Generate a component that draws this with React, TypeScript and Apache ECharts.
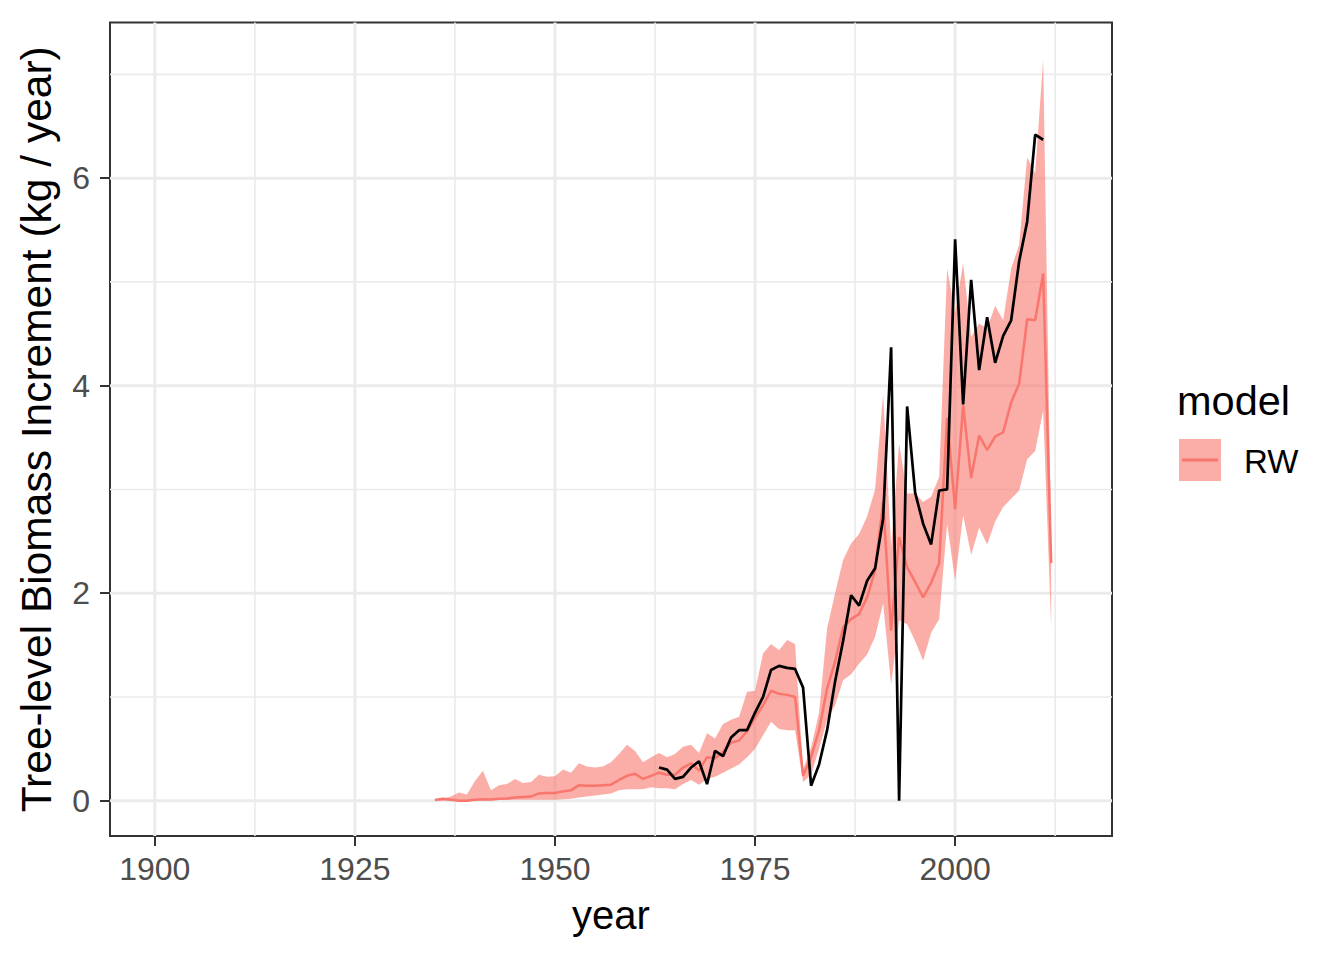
import React, { useEffect, useRef } from "react";
import * as echarts from "echarts";

const FONT = "'Liberation Sans', Arial, Helvetica, sans-serif";

// Band / mean years (model RW)
const years = [
  1935, 1936, 1937, 1938, 1939, 1940, 1941, 1942, 1943, 1944,
  1945, 1946, 1947, 1948, 1949, 1950, 1951, 1952, 1953, 1954,
  1955, 1956, 1957, 1958, 1959, 1960, 1961, 1962, 1963, 1964,
  1965, 1966, 1967, 1968, 1969, 1970, 1971, 1972, 1973, 1974,
  1975, 1976, 1977, 1978, 1979, 1980, 1981, 1982, 1983, 1984,
  1985, 1986, 1987, 1988, 1989, 1990, 1991, 1992, 1993, 1994,
  1995, 1996, 1997, 1998, 1999, 2000, 2001, 2002, 2003, 2004,
  2005, 2006, 2007, 2008, 2009, 2010, 2011, 2012,
];

const rwMean = [
  0.006, 0.02, 0.01, 0.0, 0.0, 0.01, 0.015, 0.012, 0.02, 0.022,
  0.03, 0.035, 0.04, 0.07, 0.074, 0.074, 0.09, 0.1, 0.15, 0.145,
  0.145, 0.15, 0.155, 0.2, 0.24, 0.26, 0.21, 0.24, 0.27, 0.25,
  0.25, 0.32, 0.36, 0.29, 0.42, 0.41, 0.47, 0.56, 0.58, 0.67,
  0.8, 0.92, 1.06, 1.03, 1.02, 1.0, 0.24, 0.42, 0.68, 1.08,
  1.34, 1.67, 1.75, 1.8, 1.96, 2.22, 2.88, 1.64, 2.54, 2.25,
  2.11, 1.96, 2.1, 2.29, 3.69, 2.81, 3.81, 3.11, 3.52, 3.38,
  3.51, 3.55, 3.84, 4.02, 4.64, 4.63, 5.08, 2.29,
];

const rwUpper = [
  0.01, 0.02, 0.04, 0.08, 0.06, 0.19, 0.29, 0.1, 0.15, 0.16,
  0.21, 0.17, 0.18, 0.25, 0.23, 0.235, 0.3, 0.27, 0.36, 0.33,
  0.32, 0.33, 0.37, 0.45, 0.54, 0.48, 0.37, 0.42, 0.46, 0.42,
  0.45, 0.52, 0.54, 0.46, 0.65, 0.6, 0.74, 0.78, 0.81, 1.05,
  1.06, 1.42, 1.51, 1.45, 1.55, 1.51, 0.3, 0.51, 0.85, 1.66,
  2.0, 2.32, 2.48, 2.57, 2.74, 3.0, 3.92, 2.45, 3.44, 2.96,
  2.96, 2.88, 2.93, 3.12, 5.13, 4.7, 5.18, 4.47, 4.6, 4.55,
  4.77, 4.63, 5.13, 5.36, 6.2, 6.05, 7.14, 2.5,
];

const rwLower = [
  0.0, 0.0, 0.0, 0.0, 0.0, 0.005, 0.005, 0.005, 0.008, 0.01,
  0.01, 0.01, 0.01, 0.01, 0.01, 0.01, 0.015, 0.02, 0.03, 0.04,
  0.05, 0.06, 0.07, 0.1, 0.11, 0.11, 0.11, 0.13, 0.12, 0.12,
  0.11, 0.16, 0.2, 0.155, 0.21, 0.23, 0.27, 0.31, 0.35, 0.42,
  0.5, 0.63, 0.76, 0.69, 0.68, 0.68, 0.18, 0.25, 0.5, 0.78,
  0.92, 1.16, 1.22, 1.32, 1.41, 1.58, 1.9, 1.12, 1.74, 1.7,
  1.54, 1.35, 1.62, 1.75, 2.67, 2.12, 2.75, 2.37, 2.63, 2.47,
  2.69, 2.83, 2.91, 2.99, 3.29, 3.37, 3.76, 1.68,
];

// Observed (black line)
const obsYears = [
  1963, 1964, 1965, 1966, 1967, 1968, 1969, 1970, 1971, 1972,
  1973, 1974, 1975, 1976, 1977, 1978, 1979, 1980, 1981, 1982,
  1983, 1984, 1985, 1986, 1987, 1988, 1989, 1990, 1991, 1992,
  1993, 1994, 1995, 1996, 1997, 1998, 1999, 2000, 2001, 2002,
  2003, 2004, 2005, 2006, 2007, 2008, 2009, 2010, 2011,
];
const obsValues = [
  0.32, 0.3, 0.21, 0.23, 0.32, 0.38, 0.16, 0.48, 0.43, 0.61,
  0.68, 0.68, 0.85, 1.0, 1.26, 1.3, 1.28, 1.27, 1.09, 0.145,
  0.35, 0.68, 1.15, 1.54, 1.98, 1.88, 2.12, 2.24, 2.72, 4.37,
  0.0, 3.8, 2.97, 2.67, 2.47, 2.99, 3.0, 5.41, 3.82, 5.02,
  4.15, 4.66, 4.22, 4.48, 4.63, 5.2, 5.58, 6.42, 6.37,
];

const xMajorTicks = [1900, 1925, 1950, 1975, 2000];
const xMinorTicks = [1912.5, 1937.5, 1962.5, 1987.5, 2012.5];
const yMajorTicks = [0, 2, 4, 6];
const yMinorTicks = [1, 3, 5, 7];

const X_MIN = 1894.4;
const X_MAX = 2019.6;
const Y_MIN = -0.34;
const Y_MAX = 7.5;

const BAND_FILL = "rgba(248,118,109,0.6)";
const RED = "#F8766D";
const GRID_COLOR = "#EBEBEB";

export default function App() {
  const ref = useRef<HTMLDivElement>(null);

  useEffect(() => {
    if (!ref.current) return;
    const chart = echarts.init(ref.current, undefined, { renderer: "svg" });

    const xGridData = [
      ...xMajorTicks.map((v) => [v, 1]),
      ...xMinorTicks.map((v) => [v, 0]),
    ];
    const yGridData = [
      ...yMajorTicks.map((v) => [v, 1]),
      ...yMinorTicks.map((v) => [v, 0]),
    ];

    const option: any = {
      animation: false,
      backgroundColor: "#ffffff",
      textStyle: { fontFamily: FONT },
      grid: {
        left: 110,
        top: 22.5,
        width: 1002,
        height: 813.5,
        show: true,
        borderColor: "#333333",
        borderWidth: 2,
        backgroundColor: "transparent",
        containLabel: false,
        outerBoundsMode: "none",
      },
      xAxis: {
        type: "value",
        min: X_MIN,
        max: X_MAX,
        name: "year",
        nameLocation: "middle",
        nameGap: 59,
        nameTextStyle: { fontSize: 40, color: "#000000", fontFamily: FONT },
        axisLine: { show: false, onZero: false },
        splitLine: { show: false },
        axisTick: {
          show: true,
          customValues: xMajorTicks,
          length: 10,
          lineStyle: { color: "#333333", width: 2 },
        },
        axisLabel: {
          customValues: xMajorTicks,
          fontSize: 32,
          color: "#4D4D4D",
          margin: 17,
          fontFamily: FONT,
          formatter: (v: number) => String(v),
        },
      },
      yAxis: {
        type: "value",
        min: Y_MIN,
        max: Y_MAX,
        name: "Tree-level Biomass Increment (kg / year)",
        nameLocation: "middle",
        nameGap: 52,
        nameRotate: 90,
        nameTextStyle: { fontSize: 42.5, color: "#000000", fontFamily: FONT },
        axisLine: { show: false, onZero: false },
        splitLine: { show: false },
        axisTick: {
          show: true,
          customValues: yMajorTicks,
          length: 10,
          lineStyle: { color: "#333333", width: 2 },
        },
        axisLabel: {
          customValues: yMajorTicks,
          fontSize: 32,
          color: "#4D4D4D",
          margin: 20,
          fontFamily: FONT,
          formatter: (v: number) => String(v),
        },
      },
      series: [
        {
          type: "custom",
          name: "xgrid",
          silent: true,
          z: 0,
          data: xGridData,
          encode: { x: 0, y: 1 },
          renderItem: (params: any, api: any) => {
            const p = api.coord([api.value(0), 0]);
            const cs = params.coordSys;
            return {
              type: "line",
              shape: { x1: p[0], y1: cs.y, x2: p[0], y2: cs.y + cs.height },
              style: { stroke: GRID_COLOR, lineWidth: api.value(1) ? 3 : 1.6 },
            };
          },
        },
        {
          type: "custom",
          name: "ygrid",
          silent: true,
          z: 0,
          data: yGridData,
          encode: { y: 0, x: 1 },
          renderItem: (params: any, api: any) => {
            const p = api.coord([X_MIN, api.value(0)]);
            const cs = params.coordSys;
            return {
              type: "line",
              shape: { x1: cs.x, y1: p[1], x2: cs.x + cs.width, y2: p[1] },
              style: { stroke: GRID_COLOR, lineWidth: api.value(1) ? 3 : 1.6 },
            };
          },
        },
        {
          type: "custom",
          name: "RW band",
          silent: true,
          z: 2,
          data: years.map((y, i) => [y, rwLower[i], rwUpper[i]]),
          encode: { x: 0, y: [1, 2] },
          renderItem: (params: any, api: any) => {
            if (params.dataIndex !== 0) return null;
            const pts: number[][] = [];
            for (let i = 0; i < years.length; i++) pts.push(api.coord([years[i], rwUpper[i]]));
            for (let i = years.length - 1; i >= 0; i--) pts.push(api.coord([years[i], rwLower[i]]));
            return {
              type: "polygon",
              shape: { points: pts },
              style: { fill: BAND_FILL, stroke: "none" },
            };
          },
        },
        {
          type: "line",
          name: "RW",
          z: 3,
          silent: true,
          symbol: "none",
          data: years.map((y, i) => [y, rwMean[i]]),
          lineStyle: { color: RED, width: 2.5 },
          itemStyle: { color: RED },
        },
        {
          type: "line",
          name: "observed",
          z: 4,
          silent: true,
          symbol: "none",
          data: obsYears.map((y, i) => [y, obsValues[i]]),
          lineStyle: { color: "#000000", width: 2.7 },
          itemStyle: { color: "#000000" },
        },
      ],
      graphic: [
        {
          type: "text",
          left: 1177,
          top: 379,
          style: { text: "model", fontSize: 41.5, fill: "#000000", fontFamily: FONT },
        },
        {
          type: "rect",
          shape: { x: 1179, y: 439, width: 42, height: 42 },
          style: { fill: BAND_FILL },
        },
        {
          type: "line",
          shape: { x1: 1182, y1: 460, x2: 1218, y2: 460 },
          style: { stroke: RED, lineWidth: 3 },
        },
        {
          type: "text",
          left: 1244,
          top: 445,
          style: { text: "RW", fontSize: 33, fill: "#000000", fontFamily: FONT },
        },
      ],
    };

    chart.setOption(option);
    return () => chart.dispose();
  }, []);

  return (
    <div
      ref={ref}
      style={{ position: "fixed", left: 0, top: 0, width: 1344, height: 960 }}
    />
  );
}
